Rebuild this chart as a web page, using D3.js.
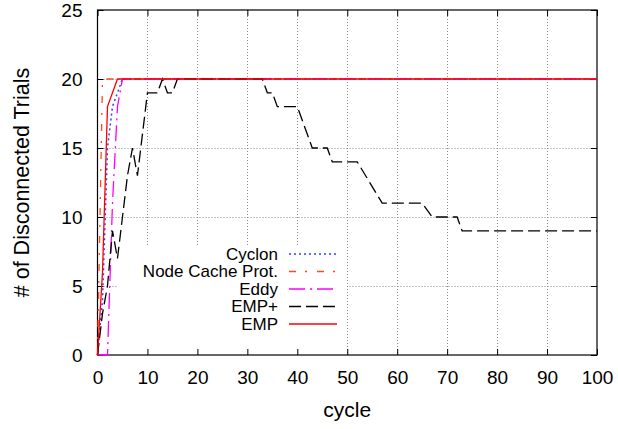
<!DOCTYPE html>
<html>
<head>
<meta charset="utf-8">
<script src="https://cdn.jsdelivr.net/npm/d3@7"></script>
<style>
  html, body { margin: 0; padding: 0; background: #fff; }
  svg { display: block; font-family: "Liberation Sans", Arial, sans-serif; }
</style>
</head>
<body>
<svg id="chart" width="618" height="429"></svg>
<script>
// Disconnected trials per cycle for each membership protocol
const cyclonCycles = [0, 1, 2, 3, 4, 5, 100];
const cyclonTrials = [0, 4, 15, 18, 19, 20, 20];

const nodeCacheCycles = [0, 1, 100];
const nodeCacheTrials = [0, 20, 20];

const eddyCycles = [0, 1, 2, 3, 4, 5, 100];
const eddyTrials = [0, 0, 0, 11, 18, 20, 20];

const empPlusCycles = [0, 1, 2, 3, 4, 5, 6, 7, 8, 9, 10, 11, 12, 13, 14, 15, 16,
  33, 34, 35, 36, 40, 43, 46, 47, 52, 57, 65, 67, 72, 73, 100];
const empPlusTrials = [0, 3, 5, 9, 7, 10, 13, 15, 13, 16, 19, 19, 19, 20, 19, 19, 20,
  20, 19, 19, 18, 18, 15, 15, 14, 14, 11, 11, 10, 10, 9, 9];

const empCycles = [0, 1, 2, 3, 4, 100];
const empTrials = [0, 6, 18, 19, 20, 20];

const xTicks = [0, 10, 20, 30, 40, 50, 60, 70, 80, 90, 100];
const yTicks = [0, 5, 10, 15, 20, 25];

const seriesNames = ["Cyclon", "Node Cache Prot.", "Eddy", "EMP+", "EMP"];

const series = [
  { name: seriesNames[0], cycles: cyclonCycles, trials: cyclonTrials, color: "#3a3aff", dash: "2,3", width: 1.5 },
  { name: seriesNames[1], cycles: nodeCacheCycles, trials: nodeCacheTrials, color: "#ff4a14", dash: "7,9,2,10", width: 1.3 },
  { name: seriesNames[2], cycles: eddyCycles, trials: eddyTrials, color: "#ff00ff", dash: "16,5,2,5", width: 1.3 },
  { name: seriesNames[3], cycles: empPlusCycles, trials: empPlusTrials, color: "#000000", dash: "12,5", width: 1.3 },
  { name: seriesNames[4], cycles: empCycles, trials: empTrials, color: "#ff0000", dash: null, width: 1.3 }
];

const svg = d3.select("#chart");
const plotLeft = 97.5, plotRight = 597, plotTop = 10, plotBottom = 355;

const x = d3.scaleLinear().domain([0, 100]).range([plotLeft, plotRight]);
const y = d3.scaleLinear().domain([0, 25]).range([plotBottom, plotTop]);

// grid
const grid = svg.append("g").attr("stroke", "#8a8a8a").attr("stroke-width", 1)
  .attr("stroke-dasharray", "1,2").attr("fill", "none");
xTicks.filter(d => d > 0 && d < 100).forEach(d => {
  grid.append("line").attr("x1", Math.round(x(d)) + 0.5).attr("x2", Math.round(x(d)) + 0.5)
    .attr("y1", plotTop).attr("y2", plotBottom);
});
yTicks.filter(d => d > 0 && d < 25).forEach(d => {
  grid.append("line").attr("y1", Math.round(y(d)) + 0.5).attr("y2", Math.round(y(d)) + 0.5)
    .attr("x1", plotLeft).attr("x2", plotRight);
});

// opaque key area
svg.append("rect").attr("x", 118).attr("y", 245).attr("width", 229).attr("height", 109.5)
  .attr("fill", "#fff");

// axes with inward ticks, mirrored on top and right
const tickLen = 6;
const xAxisBottom = d3.axisBottom(x).tickValues(xTicks).tickSizeInner(-tickLen).tickSizeOuter(0).tickPadding(16);
const xAxisTop = d3.axisTop(x).tickValues(xTicks).tickSizeInner(-tickLen).tickSizeOuter(0).tickFormat("");
const yAxisLeft = d3.axisLeft(y).tickValues(yTicks).tickSizeInner(-tickLen).tickSizeOuter(0).tickPadding(15);
const yAxisRight = d3.axisRight(y).tickValues(yTicks).tickSizeInner(-tickLen).tickSizeOuter(0).tickFormat("");

function styleAxis(g) {
  g.select(".domain").remove();
  g.selectAll(".tick line").attr("stroke", "#000").attr("stroke-width", 1);
  g.selectAll(".tick text").attr("fill", "#000").attr("font-size", 19)
    .attr("font-family", "Liberation Sans, Arial, sans-serif");
}
svg.append("g").attr("transform", `translate(0,${plotBottom})`).call(xAxisBottom).call(styleAxis);
svg.append("g").attr("transform", `translate(0,${plotTop})`).call(xAxisTop).call(styleAxis);
svg.append("g").attr("transform", `translate(${plotLeft},0)`).call(yAxisLeft).call(styleAxis);
svg.append("g").attr("transform", `translate(${plotRight},0)`).call(yAxisRight).call(styleAxis);

// frame
svg.append("rect").attr("x", plotLeft).attr("y", plotTop).attr("width", plotRight - plotLeft).attr("height", plotBottom - plotTop)
  .attr("fill", "none").attr("stroke", "#000").attr("stroke-width", 1.2);

// axis titles
svg.append("text").attr("x", (plotLeft + plotRight) / 2).attr("y", 417).attr("text-anchor", "middle")
  .attr("font-size", 21).text("cycle");
svg.append("text").attr("transform", `translate(29,${(plotTop + plotBottom) / 2}) rotate(-90)`)
  .attr("text-anchor", "middle").attr("font-size", 21.5).text("# of Disconnected Trials");

// series lines
const line = d3.line().x(d => x(d[0])).y(d => y(d[1]));
series.forEach(s => {
  const pts = s.cycles.map((c, i) => [c, s.trials[i]]);
  svg.append("path").datum(pts).attr("d", line).attr("fill", "none")
    .attr("stroke", s.color).attr("stroke-width", s.width)
    .attr("stroke-dasharray", s.dash);
});

// key
const key = svg.append("g");
series.forEach((s, i) => {
  const ky = 254 + i * 17.5;
  key.append("text").attr("x", 278).attr("y", ky).attr("dy", "0.35em")
    .attr("text-anchor", "end").attr("font-size", 17).text(s.name);
  key.append("line").attr("x1", 289).attr("x2", 337).attr("y1", ky).attr("y2", ky)
    .attr("stroke", s.color).attr("stroke-width", s.width).attr("stroke-dasharray", s.dash);
});
</script>
</body>
</html>
